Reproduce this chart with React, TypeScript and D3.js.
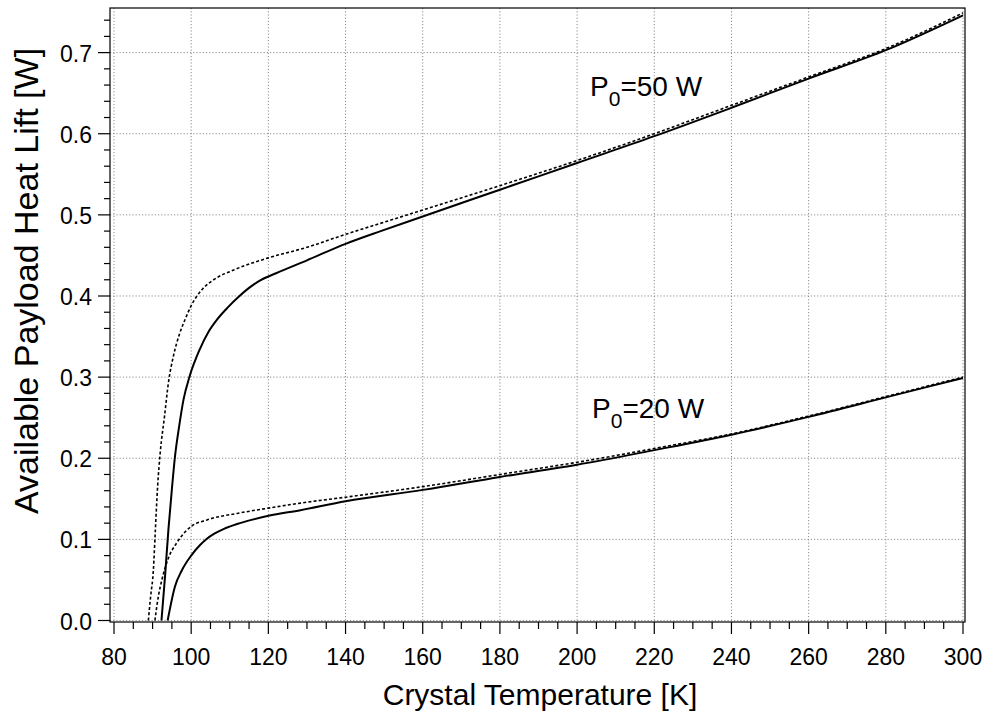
import React from "react";
import * as d3 from "d3";

const xTicks = [80, 100, 120, 140, 160, 180, 200, 220, 240, 260, 280, 300];
const yTicks = [0.0, 0.1, 0.2, 0.3, 0.4, 0.5, 0.6, 0.7];

const p50SolidT = [92.3, 93.25, 94.1, 95.0, 95.8, 96.9, 98.0, 99.6, 102.2, 104.5, 106.7, 109.5, 112.3, 115.0, 117.9, 122, 130, 140, 149.1, 160, 180, 200, 220, 240, 260, 280, 300];
const p50SolidV = [0, 0.056, 0.112, 0.162, 0.202, 0.24, 0.272, 0.301, 0.334, 0.356, 0.371, 0.386, 0.399, 0.41, 0.4192, 0.428, 0.444, 0.4643, 0.48, 0.498, 0.531, 0.564, 0.597, 0.632, 0.668, 0.703, 0.746];

const p50DashT = [88.9, 89.5, 90.2, 90.7, 91.3, 92.0, 93.1, 94.1, 95.4, 97.1, 98.5, 100.0, 101.5, 103.0, 105.8, 111.0, 120, 130, 140, 150, 160, 180, 200, 220, 240, 260, 280, 300];
const p50DashV = [0, 0.03, 0.062, 0.11, 0.165, 0.208, 0.252, 0.293, 0.326, 0.355, 0.372, 0.388, 0.4, 0.409, 0.42, 0.432, 0.447, 0.46, 0.476, 0.491, 0.506, 0.536, 0.567, 0.6, 0.635, 0.67, 0.705, 0.749];

const p20SolidT = [93.9, 95.8, 97.6, 100.0, 102.3, 104.0, 106.0, 108.5, 111.9, 116.0, 120, 128.3, 140, 160, 180, 200, 220, 240, 260, 280, 300];
const p20SolidV = [0, 0.042, 0.062, 0.08, 0.093, 0.1005, 0.107, 0.113, 0.119, 0.1245, 0.129, 0.136, 0.147, 0.161, 0.177, 0.192, 0.21, 0.229, 0.251, 0.275, 0.299];

const p20DashT = [90.6, 91.5, 92.4, 94.1, 96.3, 98.4, 100.0, 104.1, 111.9, 120, 128.3, 140, 160, 180, 200, 220, 240, 260, 280, 300];
const p20DashV = [0, 0.03, 0.05, 0.077, 0.096, 0.109, 0.116, 0.124, 0.132, 0.1385, 0.1447, 0.152, 0.165, 0.18, 0.195, 0.212, 0.23, 0.252, 0.276, 0.3];

const FONT = "'Liberation Sans', Arial, sans-serif";

export default function App() {
  const W = 987, H = 715;
  const left = 110, right = 965, top = 8, bottom = 622;
  const x = d3.scaleLinear().domain([80, 300]).range([114, 963]);
  const y = d3.scaleLinear().domain([0, 0.755]).range([620.5, 8]);

  const xMinor = d3.range(80, 300.01, 5);
  const yMinor = d3.range(0, 0.7401, 0.02);

  const line = d3
    .line<[number, number]>()
    .x((d) => x(d[0]))
    .y((d) => y(d[1]))
    .curve(d3.curveMonotoneX);

  const mk = (t: number[], v: number[]) => line(t.map((tt, i) => [tt, v[i]] as [number, number])) || "";

  const series = [
    { d: mk(p50DashT, p50DashV), dash: "3,2.2", w: 1.6 },
    { d: mk(p20DashT, p20DashV), dash: "3,2.2", w: 1.6 },
    { d: mk(p50SolidT, p50SolidV), dash: undefined, w: 2 },
    { d: mk(p20SolidT, p20SolidV), dash: undefined, w: 2 },
  ];

  return (
    <svg width={W} height={H} style={{ position: "absolute", left: 0, top: 0, background: "#fff" }} fontFamily={FONT}>
      <rect x={0} y={0} width={W} height={H} fill="#fff" />
      {xTicks.map((t) => (
        <line key={"gx" + t} x1={x(t)} x2={x(t)} y1={top} y2={bottom} stroke="#8c8c8c" strokeWidth={1} strokeDasharray="1.2,2" />
      ))}
      {yTicks.map((t) => (
        <line key={"gy" + t} x1={left} x2={right} y1={y(t)} y2={y(t)} stroke="#8c8c8c" strokeWidth={1} strokeDasharray="1.2,2" />
      ))}
      <rect x={left} y={top} width={right - left} height={bottom - top} fill="none" stroke="#000" strokeWidth={1.2} />
      {xMinor.map((t) => {
        const major = Math.abs(t % 20) < 1e-6;
        return <line key={"xt" + t} x1={x(t)} x2={x(t)} y1={bottom} y2={bottom + (major ? 12 : 7)} stroke="#000" strokeWidth={1.2} />;
      })}
      {xTicks.map((t) => (
        <text key={"xl" + t} x={x(t)} y={665} fontSize={23} textAnchor="middle" fill="#000">
          {t}
        </text>
      ))}
      {yMinor.map((t, i) => {
        const major = i % 5 === 0;
        return <line key={"yt" + i} x1={left - (major ? 12 : 6)} x2={left} y1={y(t)} y2={y(t)} stroke="#000" strokeWidth={1.2} />;
      })}
      {yTicks.map((t) => (
        <text key={"yl" + t} x={92} y={y(t) + 9} fontSize={23} textAnchor="end" fill="#000">
          {t.toFixed(1)}
        </text>
      ))}
      {series.map((s, i) => (
        <path key={"s" + i} d={s.d} fill="none" stroke="#000" strokeWidth={s.w} strokeDasharray={s.dash} />
      ))}
      <text x={590} y={96} fontSize={28} fill="#000">
        P<tspan fontSize={21} dy={10}>0</tspan>
        <tspan dy={-10}>=50 W</tspan>
      </text>
      <text x={592} y={418} fontSize={28} fill="#000">
        P<tspan fontSize={21} dy={10}>0</tspan>
        <tspan dy={-10}>=20 W</tspan>
      </text>
      <text x={540} y={705} fontSize={30} textAnchor="middle" fill="#000">
        Crystal Temperature [K]
      </text>
      <text transform="translate(38,281) rotate(-90)" fontSize={34} textAnchor="middle" fill="#000">
        Available Payload Heat Lift [W]
      </text>
    </svg>
  );
}
